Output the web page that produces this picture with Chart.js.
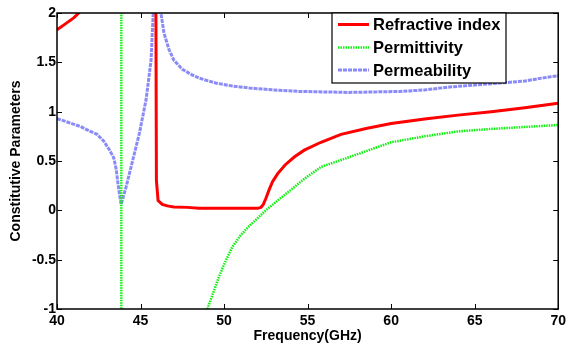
<!DOCTYPE html>
<html>
<head>
<meta charset="utf-8">
<script src="https://cdn.jsdelivr.net/npm/chart.js@4/dist/chart.umd.min.js"></script>
<style>
  body { margin: 0; background: #fff; }
  #chart { display: block; }
</style>
</head>
<body>
<canvas id="chart" width="570" height="345"></canvas>
<script>
'use strict';

// Refractive index (red)
const freqIndex = [40, 40.5, 41, 41.3, 41.8, 43, 44.5, 45.5, 45.85, 45.95, 46.05, 46.3, 46.6, 47, 47.8,
    48.5, 50, 51, 52, 52.2, 52.35, 52.5, 52.7, 52.9, 53.2, 53.65, 54.2, 54.8, 55.8, 57, 58.5, 60,
    62, 64, 66, 68, 70];
const refractiveIndex = [1.83, 1.89, 1.95, 2.0, 2.1, 2.5, 3.5, 5, 6, 0.3, 0.1, 0.06, 0.045, 0.035, 0.03,
    0.022, 0.02, 0.02, 0.02, 0.03, 0.06, 0.12, 0.21, 0.29, 0.37, 0.46, 0.54, 0.61, 0.69, 0.77, 0.83, 0.88,
    0.925, 0.965, 1.0, 1.04, 1.085];

// Permittivity (green)
const freqEps = [40, 42, 43, 43.5, 43.8, 43.84, 43.86, 44.2, 45, 46, 47, 48, 48.5, 49, 49.3, 49.7,
    50.1, 50.5, 51, 51.5, 52, 52.5, 53, 53.8, 54.8, 55.8, 57, 58.5, 60, 62, 64, 66, 68, 70];
const permittivity = [5, 8, 12, 25, 100, 400, -400, -30, -10, -4.5, -2.6, -1.6, -1.3, -1.0, -0.86, -0.67,
    -0.51, -0.37, -0.25, -0.16, -0.08, 0.0, 0.07, 0.18, 0.32, 0.44, 0.51, 0.6, 0.69, 0.75, 0.8, 0.825,
    0.845, 0.865];

// Permeability (blue)
const freqMu = [40, 40.7, 41.4, 42, 42.4, 42.8, 43.15, 43.4, 43.55, 43.65, 43.75, 43.84, 44.14, 44.5,
    44.93, 45.33, 45.63, 45.76, 45.9, 46.05, 46.22, 46.4, 46.7, 47, 47.5, 48, 48.5, 49.5, 50.5, 51.5,
    53, 54.5, 56, 57.5, 59, 60.5, 62, 63.5, 65, 66.5, 68, 69, 70];
const permeability = [0.93, 0.89, 0.85, 0.8, 0.77, 0.7, 0.61, 0.53, 0.41, 0.27, 0.15, 0.06, 0.24, 0.485,
    0.78, 1.12, 1.52, 2.0, 4, 3.5, 2.0, 1.8, 1.63, 1.52, 1.43, 1.38, 1.34, 1.29, 1.26, 1.24,
    1.22, 1.205, 1.2, 1.195, 1.2, 1.205, 1.22, 1.25, 1.27, 1.29, 1.31, 1.34, 1.365];

const xTickVals = [40, 45, 50, 55, 60, 65, 70];
const yTickVals = [-1, -0.5, 0, 0.5, 1, 1.5, 2];

const seriesNames = ['Refractive index', 'Permittivity', 'Permeability'];

const RED = '#ff0000';
const GREEN = '#10f010';
const BLUE = 'rgba(100, 100, 245, 0.75)';

function points(xs, ys) {
    return xs.map((x, i) => ({ x: x, y: ys[i] }));
}

const boldFont = (size) => ({ family: '"Liberation Sans", Arial, sans-serif', size: size, weight: 'bold' });

// Black box round the plot, with inward ticks on all four sides (MATLAB look)
const framePlugin = {
    id: 'frame',
    afterDatasetsDraw(chart) {
        const { ctx, chartArea: a, scales: { x, y } } = chart;
        ctx.save();
        ctx.strokeStyle = '#000';
        ctx.lineWidth = 1;
        ctx.beginPath();
        for (const t of xTickVals) {
            const px = Math.round(x.getPixelForValue(t)) + 0.5;
            ctx.moveTo(px, a.bottom); ctx.lineTo(px, a.bottom - 5);
            ctx.moveTo(px, a.top); ctx.lineTo(px, a.top + 5);
        }
        for (const t of yTickVals) {
            const py = Math.round(y.getPixelForValue(t)) + 0.5;
            ctx.moveTo(a.left, py); ctx.lineTo(a.left + 5, py);
            ctx.moveTo(a.right, py); ctx.lineTo(a.right - 5, py);
        }
        ctx.stroke();
        ctx.lineWidth = 1.5;
        ctx.strokeRect(a.left, a.top, a.right - a.left, a.bottom - a.top);
        ctx.restore();
    }
};

// Legend box in the upper right of the plot
const legendPlugin = {
    id: 'boxLegend',
    afterDraw(chart) {
        const { ctx } = chart;
        const bx = 332, by = 13, bw = 174, bh = 70;
        ctx.save();
        ctx.fillStyle = '#fff';
        ctx.fillRect(bx, by, bw, bh);
        ctx.strokeStyle = '#000';
        ctx.lineWidth = 1.2;
        ctx.strokeRect(bx, by, bw, bh);

        const rows = [24.5, 47.5, 70];
        chart.data.datasets.forEach((ds, i) => {
            const yy = rows[i];
            ctx.strokeStyle = ds.borderColor;
            ctx.lineWidth = ds.borderWidth;
            ctx.setLineDash(ds.borderDash || []);
            ctx.beginPath();
            ctx.moveTo(338, yy);
            ctx.lineTo(369, yy);
            ctx.stroke();
            ctx.setLineDash([]);
            ctx.fillStyle = '#000';
            ctx.font = 'bold 16.5px "Liberation Sans", Arial, sans-serif';
            ctx.textBaseline = 'middle';
            ctx.textAlign = 'left';
            ctx.fillText(ds.label, 373, yy + 1);
        });
        ctx.restore();
    }
};

new Chart(document.getElementById('chart'), {
    type: 'line',
    data: {
        datasets: [
            {
                label: seriesNames[0],
                data: points(freqIndex, refractiveIndex),
                borderColor: RED,
                borderWidth: 3,
                pointRadius: 0,
                tension: 0
            },
            {
                label: seriesNames[1],
                data: points(freqEps, permittivity),
                borderColor: GREEN,
                borderWidth: 2.5,
                borderDash: [1.5, 1],
                pointRadius: 0,
                tension: 0
            },
            {
                label: seriesNames[2],
                data: points(freqMu, permeability),
                borderColor: BLUE,
                borderWidth: 3,
                borderDash: [4, 1],
                pointRadius: 0,
                tension: 0
            }
        ]
    },
    options: {
        responsive: false,
        animation: false,
        layout: { padding: { top: 13, right: 8, left: 0, bottom: 0 } },
        scales: {
            x: {
                type: 'linear',
                min: 40,
                max: 70,
                afterBuildTicks: (s) => { s.ticks = xTickVals.map(v => ({ value: v })); },
                afterFit: (s) => { s.height = 36; },
                ticks: { font: boldFont(14), color: '#000', padding: 4, maxRotation: 0 },
                grid: { display: false, drawTicks: false },
                border: { display: false },
                title: {
                    display: true,
                    text: 'Frequency(GHz)',
                    font: boldFont(14),
                    color: '#000',
                    padding: { top: 0, bottom: 0 }
                }
            },
            y: {
                min: -1,
                max: 2,
                afterBuildTicks: (s) => { s.ticks = yTickVals.map(v => ({ value: v })); },
                afterFit: (s) => { s.width = 57; },
                ticks: {
                    font: boldFont(14),
                    color: '#000',
                    padding: 1,
                    callback: (v) => String(v)
                },
                grid: { display: false, drawTicks: false },
                border: { display: false },
                title: {
                    display: true,
                    text: 'Constitutive Parameters',
                    font: boldFont(14),
                    color: '#000',
                    padding: { top: 8, bottom: 0 }
                }
            }
        },
        plugins: {
            legend: { display: false },
            tooltip: { enabled: false }
        }
    },
    plugins: [framePlugin, legendPlugin]
});
</script>
</body>
</html>
